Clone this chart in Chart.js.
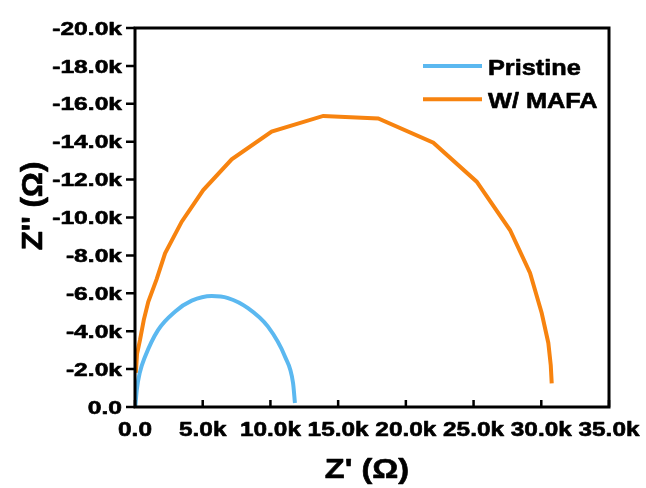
<!DOCTYPE html>
<html>
<head>
<meta charset="utf-8">
<script src="https://cdn.jsdelivr.net/npm/chart.js@4"></script>
<style>
  html, body { margin: 0; padding: 0; background: #fff; }
  #wrap { width: 646px; height: 488px; }
</style>
</head>
<body>
<div id="wrap"><canvas id="chart" width="646" height="488"></canvas></div>
<script>
// values (ohm)
const seriesNames = ['Pristine', 'W/ MAFA'];
const seriesColors = ['#5BB8F0', '#F7830F'];

const pristineX = [20, 130, 350, 740, 1700, 2950, 4190, 5660, 6870, 8340, 9820, 11080, 11670, 11810];
const pristineY = [0, -900, -1800, -2650, -4060, -5030, -5610, -5860, -5750, -5220, -4240, -2650, -1270, -210];

const mafaX = [60, 150, 370, 650, 980, 1600, 2220, 3450, 5040, 7140, 10090, 13900, 17960, 22030, 25230, 27690, 29170, 30030, 30520, 30700, 30770];
const mafaY = [-1800, -2800, -3540, -4600, -5550, -6750, -8110, -9780, -11450, -13070, -14530, -15360, -15230, -13950, -11890, -9340, -7070, -4960, -3380, -2200, -1250];

const xTicks = [0, 5000, 10000, 15000, 20000, 25000, 30000, 35000];
const xTickLabels = ['0.0', '5.0k', '10.0k', '15.0k', '20.0k', '25.0k', '30.0k', '35.0k'];
const yTicks = [0, -2000, -4000, -6000, -8000, -10000, -12000, -14000, -16000, -18000, -20000];
const yTickLabels = ['0.0', '-2.0k', '-4.0k', '-6.0k', '-8.0k', '-10.0k', '-12.0k', '-14.0k', '-16.0k', '-18.0k', '-20.0k'];

const xTitle = "Z' (\u03A9)";
const yTitle = "Z'' (\u03A9)";

function toPoints(xs, ys) {
    return xs.map((x, i) => ({ x: x, y: ys[i] }));
}

// the reference text is wider and heavier than Arial bold, so draw it stretched with a thin outline
function wideText(ctx, text, x, y, size, sx, align, rot) {
    ctx.save();
    ctx.translate(x, y);
    if (rot) ctx.rotate(rot);
    ctx.scale(sx, 1);
    ctx.font = 'bold ' + size + 'px "Liberation Sans", Arial, sans-serif';
    ctx.textAlign = align;
    ctx.textBaseline = 'alphabetic';
    ctx.fillStyle = '#000';
    ctx.strokeStyle = '#000';
    ctx.lineWidth = 0.6;
    ctx.lineJoin = 'round';
    ctx.fillText(text, 0, 0);
    ctx.strokeText(text, 0, 0);
    ctx.restore();
}

const framePlugin = {
    id: 'frame',
    afterDatasetsDraw(chart) {
        const ctx = chart.ctx;
        const a = chart.chartArea;
        const xs = chart.scales.x, ys = chart.scales.y;

        ctx.save();
        ctx.strokeStyle = '#000';
        ctx.lineWidth = 3;
        ctx.strokeRect(a.left, a.top, a.right - a.left, a.bottom - a.top);

        // y ticks point outward, x ticks point inward
        ctx.lineWidth = 2.5;
        ctx.beginPath();
        yTicks.forEach(v => {
            const py = ys.getPixelForValue(v);
            ctx.moveTo(a.left - 9, py);
            ctx.lineTo(a.left, py);
        });
        xTicks.forEach(v => {
            const px = xs.getPixelForValue(v);
            ctx.moveTo(px, a.bottom);
            ctx.lineTo(px, a.bottom - 7);
        });
        ctx.stroke();
        ctx.restore();

        yTicks.forEach((v, i) => {
            const py = ys.getPixelForValue(v);
            wideText(ctx, yTickLabels[i], a.left - 13, py + 6.6, 18.5, 1.33, 'right');
        });
        xTicks.forEach((v, i) => {
            const px = xs.getPixelForValue(v);
            wideText(ctx, xTickLabels[i], px, a.bottom + 29, 20, 1.22, 'center');
        });

        wideText(ctx, xTitle, 367, 478, 28, 1.16, 'center');
        wideText(ctx, yTitle, 42, 206, 29, 1.08, 'center', -Math.PI / 2);

        // legend
        chart.data.datasets.forEach((ds, i) => {
            const ly = 66 + i * 33.3;
            ctx.save();
            ctx.strokeStyle = ds.borderColor;
            ctx.lineWidth = 4;
            ctx.beginPath();
            ctx.moveTo(423, ly);
            ctx.lineTo(482, ly);
            ctx.stroke();
            ctx.restore();
            wideText(ctx, ds.label, 488, ly + 8.5, 22, 1.15, 'left');
        });
    }
};

new Chart(document.getElementById('chart'), {
    type: 'scatter',
    data: {
        datasets: [{
            label: seriesNames[0],
            data: toPoints(pristineX, pristineY),
            showLine: true,
            borderColor: seriesColors[0],
            borderWidth: 4,
            pointRadius: 0,
            cubicInterpolationMode: 'monotone'
        },
        {
            label: seriesNames[1],
            data: toPoints(mafaX, mafaY),
            showLine: true,
            borderColor: seriesColors[1],
            borderWidth: 4,
            pointRadius: 0,
            tension: 0
        }]
    },
    options: {
        responsive: false,
        animation: false,
        devicePixelRatio: 1,
        layout: { padding: { left: 135, top: 28, right: 37, bottom: 81 } },
        plugins: {
            legend: { display: false },
            tooltip: { enabled: false }
        },
        scales: {
            x: { type: 'linear', display: false, min: 0, max: 35000 },
            y: { type: 'linear', display: false, min: -20000, max: 0, reverse: true }
        }
    },
    plugins: [framePlugin]
});
</script>
</body>
</html>
